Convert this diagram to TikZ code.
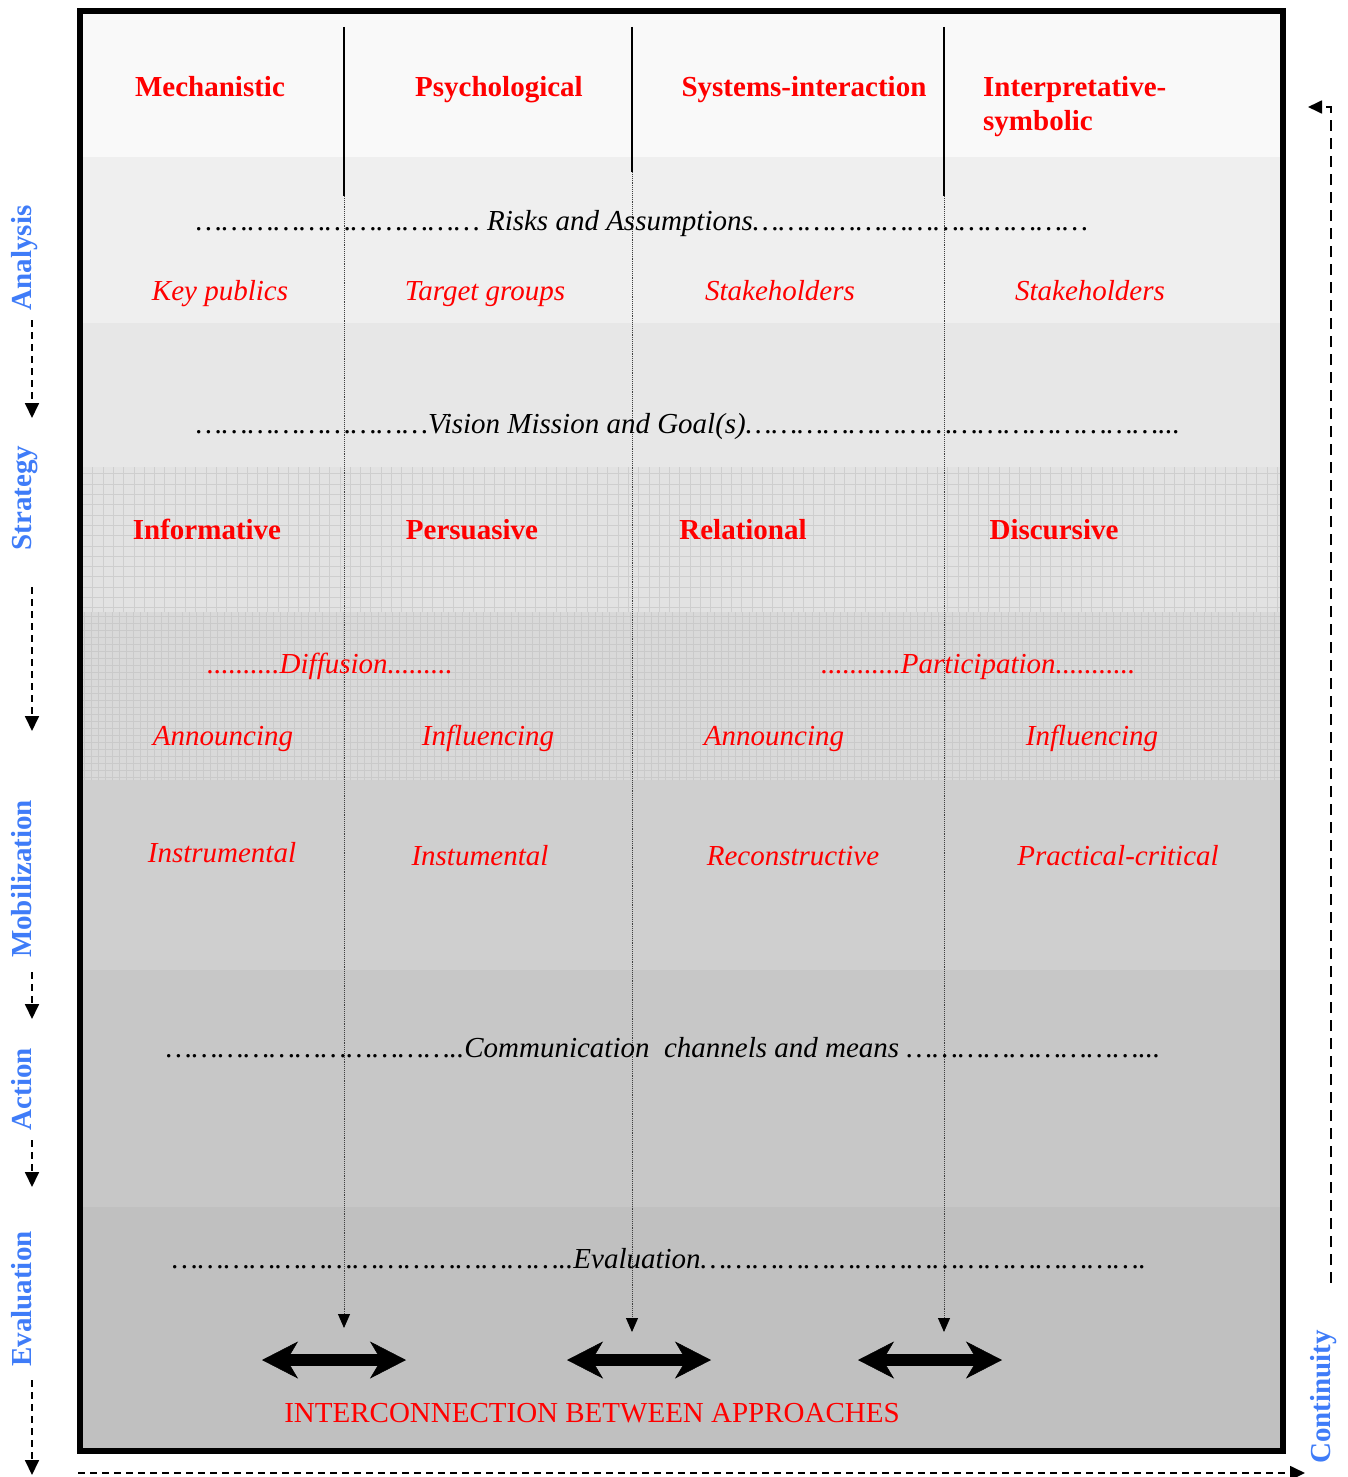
\documentclass[tikz,border=0pt]{standalone}
\usepackage{fontspec}
\setmainfont{Liberation Serif}
\usepackage{xcolor}
\usepackage{tikz}
\usetikzlibrary{arrows.meta}
\definecolor{phasecol}{HTML}{3F7CF8}
\definecolor{bandA}{HTML}{F9F9F9}
\definecolor{bandB}{HTML}{EFEFEF}
\definecolor{bandC}{HTML}{E7E7E7}
\definecolor{bandD}{HTML}{E2E2E2}
\definecolor{bandE}{HTML}{D9D9D9}
\definecolor{bandF}{HTML}{CFCFCF}
\definecolor{bandG}{HTML}{C7C7C7}
\definecolor{bandH}{HTML}{C0C0C0}
\definecolor{gridD}{HTML}{CECECE}
\definecolor{gridE}{HTML}{CACACA}
\newcommand\diagsize{\fontsize{29}{34}\selectfont}
\newcommand\dotrun[1]{\foreach \k in {1,...,#1}{…}}

\begin{document}
\begin{tikzpicture}[x=1pt,y=-1pt,
  apphead/.style={font=\diagsize\bfseries,text=red,anchor=base,inner sep=0pt},
  itemlab/.style={font=\diagsize\itshape,text=red,anchor=base,inner sep=0pt},
  dotline/.style={font=\diagsize\itshape,anchor=base west,inner sep=0pt},
  phase/.style={font=\diagsize\bfseries,text=phasecol,rotate=90,anchor=base,inner sep=0pt},
  flow/.style={dash pattern=on 7pt off 5pt,line width=1.8pt,
               -{Triangle[length=15pt,width=14pt]}},
  cycleline/.style={dash pattern=on 11pt off 7pt,line width=1.8pt,
               -{Triangle[length=14pt,width=13pt]}},
  guide/.style={densely dotted,line width=0.9pt,black!75,
               -{Triangle[length=14pt,width=12pt,black]}},
  swaparrow/.style={line width=12.6pt,
    {Stealth[length=36pt,width=37pt,inset=11pt,line width=0.5pt]}-{Stealth[length=36pt,width=37pt,inset=11pt,line width=0.5pt]}},
]
\useasboundingbox (0,0) rectangle (1348,1477);

% ---------- bands, darker towards the bottom ----------
\foreach \ya/\yb/\c in {14/157/bandA,157/323/bandB,323/467/bandC,467/612/bandD,
                        612/780/bandE,780/970/bandF,970/1207/bandG,1207/1448/bandH}
  \fill[\c] (83,\ya) rectangle (1280,\yb);
\draw[gridD,line width=0.7pt] (83,612) grid[step=10.3pt] (1280,467);
\draw[gridE,line width=0.6pt] (83,780) grid[step=7pt] (1280,612);
\draw[line width=6pt] (80,11) rectangle (1283,1451);

% ---------- approaches and their guide lines ----------
\foreach \x/\ys/\ye [count=\i] in {344/196/1328,632/172/1332,944/196/1332} {
  \coordinate (top\i) at (\x,27);
  \coordinate (mid\i) at (\x,\ys);
  \coordinate (end\i) at (\x,\ye);
  \draw[line width=1.6pt] (top\i) -- (mid\i);
  \draw[guide] (mid\i) -- (end\i);
}
\foreach \x/\lab [count=\i] in {210/Mechanistic,499/Psychological,804/Systems-interaction}
  \node[apphead] (app\i) at (\x,97) {\lab};
\node[apphead,anchor=west,align=left] (app4) at (983,107) {Interpretative-\\symbolic};

% ---------- analysis ----------
\node[dotline] (risks) at (196,230)
  {\dotrun{11} Risks and Assumptions\dotrun{13}};
\foreach \x/\lab [count=\i] in {220/Key publics,485/Target groups,780/Stakeholders,1090/Stakeholders}
  \node[itemlab] (pub\i) at (\x,300) {\lab};

% ---------- strategy ----------
\node[dotline] (vision) at (196,433)
  {\dotrun{9}Vision Mission and Goal(s)\dotrun{16}...};
\foreach \x/\lab [count=\i] in {207/Informative,472/Persuasive,743/Relational,1054/Discursive}
  \node[apphead] (str\i) at (\x,539) {\lab};

% ---------- mobilization ----------
\node[itemlab,anchor=base west] (diff) at (207,673) {..........Diffusion.........};
\node[itemlab,anchor=base west] (part) at (821,673) {...........Participation...........};
\foreach \x/\lab [count=\i] in {223/Announcing,488/Influencing,774/Announcing,1092/Influencing}
  \node[itemlab] (mob\i) at (\x,745) {\lab};
\node[itemlab] (mod1) at (222,862) {Instrumental};
\foreach \x/\lab [count=\i from 2] in {480/Instumental,793/Reconstructive,1118/Practical-critical}
  \node[itemlab] (mod\i) at (\x,865) {\lab};

% ---------- action and evaluation ----------
\node[dotline] (chan) at (166,1057)
  {\dotrun{11}..Communication\ \ channels and means \dotrun{9}...};
\node[dotline] (eval) at (172,1268)
  {\dotrun{15}..Evaluation\dotrun{17}.};
\foreach \a/\b [count=\i] in {262/406,567/711,858/1002} {
  \coordinate (lnkL\i) at (\a,1360);
  \coordinate (lnkR\i) at (\b,1360);
  \draw[swaparrow] (lnkL\i) -- (lnkR\i);
}
\node[anchor=base,inner sep=0pt,font=\diagsize,text=red] (inter) at (592,1422)
  {INTERCONNECTION BETWEEN APPROACHES};

% ---------- phases on the left ----------
\foreach \y/\lab [count=\i] in {258/Analysis,498/Strategy,879/Mobilization,1089/Action,1299/Evaluation}
  \node[phase] (ph\i) at (31,\y) {\lab};
\foreach \a/\b [count=\i] in {320/418,587/731,972/1019,1140/1187,1380/1475} {
  \coordinate (fs\i) at (32,\a);
  \coordinate (fe\i) at (32,\b);
  \draw[flow] (fs\i) -- (fe\i);
}

% ---------- continuity loop ----------
\node[phase] (cont) at (1330,1397) {Continuity};
\coordinate (botS) at (78,1473);
\coordinate (botE) at (1305,1473);
\draw[flow] (botS) -- (botE);
\coordinate (rgtS) at (1331,1283);
\coordinate (rgtE) at (1308,107);
\draw[cycleline] (rgtS) |- (rgtE);
\end{tikzpicture}
\end{document}
